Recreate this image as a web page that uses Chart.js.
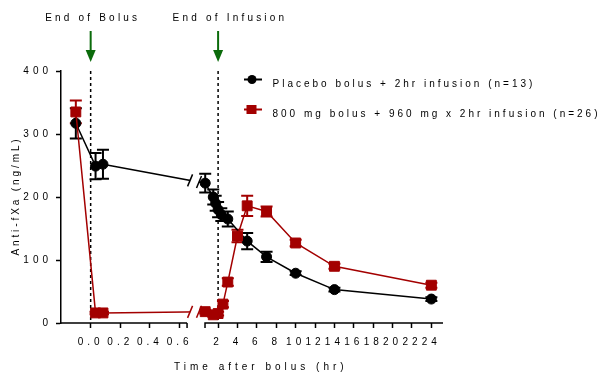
<!DOCTYPE html>
<html>
<head>
<meta charset="utf-8">
<script src="https://cdn.jsdelivr.net/npm/chart.js@4.4.1/dist/chart.umd.min.js"></script>
<style>
  html, body { margin: 0; padding: 0; background: #fff; }
</style>
</head>
<body>
<canvas id="pkChart" width="603" height="375"></canvas>
<script>
// anti-fXa (ng/mL) by hours after bolus, mean and error bar half-length
const placeboHours = [-0.1, 0.033, 0.083, 0.67, 1.5, 1.75, 2, 2.33, 3, 5, 7, 10, 14, 24];
const placeboLevel = [317, 249, 252, 222, 200, 190, 180, 172, 165, 130, 105, 79, 53, 38];
const placeboError = [24, 21, 23, 15, 12, 12, 12, 10, 12, 13, 8, 3, 3, 3];

const activeHours = [-0.1, 0.033, 0.083, 0.67, 1.5, 2, 2.5, 3, 4, 5, 7, 10, 14, 24];
const activeLevel = [335, 16, 16, 18, 13, 15, 30, 65, 138, 186, 177, 127, 90, 60];
const activeError = [18, 2, 2, 3, 3, 3, 5, 6, 10, 16, 8, 5, 4, 4];

const seriesLabels = [
  "Placebo bolus + 2hr infusion (n=13)",
  "800 mg bolus + 960 mg x 2hr infusion (n=26)"
];
const xTickValues = [0, 0.2, 0.4, 0.6, 2, 4, 6, 8, 10, 12, 14, 16, 18, 20, 22, 24];
const yTickValues = [0, 100, 200, 300, 400];
const eventHours = [0, 2];
const eventLabels = ["End of Bolus", "End of Infusion"];

// broken x axis: two hour ranges and where they sit along the axis (0..1)
const leftSegment = [-0.2, 0.65];
const rightSegment = [0.65, 25.2];
const segmentSplit = [0.33, 0.377];

const darkRed = "#a30000";
const green = "#0b6b0b";

function hourToFraction(v) {
  if (v <= leftSegment[1]) {
    return (v - leftSegment[0]) / (leftSegment[1] - leftSegment[0]) * segmentSplit[0];
  }
  return segmentSplit[1] + (v - rightSegment[0]) / (rightSegment[1] - rightSegment[0]) * (1 - segmentSplit[1]);
}
function fractionToHour(f) {
  if (f <= segmentSplit[0]) {
    return leftSegment[0] + f / segmentSplit[0] * (leftSegment[1] - leftSegment[0]);
  }
  return rightSegment[0] + (f - segmentSplit[1]) / (1 - segmentSplit[1]) * (rightSegment[1] - rightSegment[0]);
}

class BrokenLinearScale extends Chart.LinearScale {
  static id = "brokenLinear";
  buildTicks() {
    return xTickValues.map((value) => ({ value }));
  }
  getPixelForValue(value) {
    if (value === null || value === undefined || isNaN(value)) return NaN;
    return this.getPixelForDecimal(hourToFraction(value));
  }
  getValueForPixel(pixel) {
    return fractionToHour(this.getDecimalForPixel(pixel));
  }
}
Chart.register(BrokenLinearScale);

Chart.defaults.font.family = "'Liberation Sans', Arial, sans-serif";
Chart.defaults.font.size = 10;
Chart.defaults.color = "#000";

function toPoints(hours, levels) {
  return hours.map((h, i) => ({ x: h, y: levels[i] }));
}

function lineYAt(points, px) {
  for (let j = 0; j < points.length - 1; j++) {
    const a = points[j], b = points[j + 1];
    if (a.x <= px && b.x >= px) {
      return a.y + (b.y - a.y) * (px - a.x) / (b.x - a.x);
    }
  }
  return null;
}

const decor = {
  id: "decor",
  beforeDraw(chart) {
    chart.ctx.letterSpacing = "4px";
  },
  beforeDatasetsDraw(chart) {
    const { ctx, chartArea, scales: { x, y } } = chart;
    ctx.save();
    ctx.setLineDash([3, 3]);
    ctx.strokeStyle = "#000";
    ctx.lineWidth = 1.5;
    eventHours.forEach((h) => {
      const px = x.getPixelForValue(h);
      ctx.beginPath();
      ctx.moveTo(px, chartArea.top);
      ctx.lineTo(px, chartArea.bottom);
      ctx.stroke();
    });
    ctx.restore();

    // error bars
    ctx.save();
    ctx.lineWidth = 2;
    chart.data.datasets.forEach((ds) => {
      ctx.strokeStyle = ds.borderColor;
      ds.data.forEach((p, i) => {
        const e = ds.errors[i];
        if (!e) return;
        const px = x.getPixelForValue(p.x);
        const top = y.getPixelForValue(p.y + e);
        const bot = y.getPixelForValue(p.y - e);
        ctx.beginPath();
        ctx.moveTo(px, top); ctx.lineTo(px, bot);
        ctx.moveTo(px - 6, top); ctx.lineTo(px + 6, top);
        ctx.moveTo(px - 6, bot); ctx.lineTo(px + 6, bot);
        ctx.stroke();
      });
    });
    ctx.restore();
  },
  afterDatasetsDraw(chart) {
    const { ctx, chartArea, scales: { x } } = chart;
    const segEnd = x.getPixelForValue(leftSegment[1]);
    const segStart = x.getPixelForDecimal(segmentSplit[1]);
    const gapL = segEnd + 3, gapR = segStart - 6;
    ctx.save();
    ctx.fillStyle = "#fff";
    ctx.fillRect(gapL, chartArea.top, gapR - gapL, chartArea.bottom - chartArea.top - 1);
    ctx.lineWidth = 1.5;
    chart.data.datasets.forEach((ds, i) => {
      const pts = chart.getDatasetMeta(i).data;
      ctx.strokeStyle = ds.borderColor;
      [gapL, gapR].forEach((gx) => {
        const gy = lineYAt(pts, gx);
        if (gy === null) return;
        ctx.beginPath();
        ctx.moveTo(gx - 2.5, gy + 6);
        ctx.lineTo(gx + 2.5, gy - 6);
        ctx.stroke();
      });
    });
    ctx.restore();
  },
  afterDraw(chart) {
    const { ctx, chartArea, scales: { x } } = chart;
    const segEnd = x.getPixelForValue(leftSegment[1]);
    const segStart = x.getPixelForDecimal(segmentSplit[1]);
    const base = chartArea.bottom;
    ctx.save();

    // x axis, drawn in two pieces
    ctx.strokeStyle = "#000";
    ctx.lineWidth = 1.5;
    ctx.beginPath();
    ctx.moveTo(chartArea.left - 0.75, base); ctx.lineTo(segEnd, base);
    ctx.moveTo(segEnd, base); ctx.lineTo(segEnd, base + 5);
    ctx.moveTo(segStart, base + 5); ctx.lineTo(segStart, base);
    ctx.lineTo(chartArea.right, base);
    ctx.stroke();

    // arrows and event labels
    ctx.font = "10px 'Liberation Sans', Arial, sans-serif";
    ctx.letterSpacing = "3.2px";
    ctx.textAlign = "left";
    ctx.textBaseline = "alphabetic";
    eventHours.forEach((h, i) => {
      const px = x.getPixelForValue(h);
      ctx.strokeStyle = green;
      ctx.fillStyle = green;
      ctx.lineWidth = 2;
      ctx.beginPath();
      ctx.moveTo(px, 31); ctx.lineTo(px, 52);
      ctx.stroke();
      ctx.beginPath();
      ctx.moveTo(px - 5, 50); ctx.lineTo(px + 5, 50); ctx.lineTo(px, 62);
      ctx.closePath();
      ctx.fill();
      ctx.fillStyle = "#000";
      ctx.fillText(eventLabels[i], px - 45.5, 21);
    });

    // legend
    const rows = [79.5, 109.5];
    chart.data.datasets.forEach((ds, i) => {
      const cy = rows[i];
      ctx.strokeStyle = ds.borderColor;
      ctx.fillStyle = ds.borderColor;
      ctx.lineWidth = 2;
      ctx.beginPath();
      ctx.moveTo(244, cy); ctx.lineTo(262, cy);
      ctx.stroke();
      if (ds.pointStyle === "circle") {
        ctx.beginPath();
        ctx.arc(252, cy, 4.5, 0, Math.PI * 2);
        ctx.fill();
      } else {
        ctx.fillRect(246.5, cy - 4.5, 10, 9);
      }
      ctx.fillStyle = "#000";
      ctx.letterSpacing = "3px";
      ctx.fillText(ds.label, 272.5, cy + 7);
    });

    // axis titles
    ctx.fillStyle = "#000";
    ctx.letterSpacing = "4px";
    ctx.textAlign = "left";
    ctx.fillText("Time after bolus (hr)", 174, 370);
    ctx.translate(19, 196);
    ctx.rotate(-Math.PI / 2);
    ctx.letterSpacing = "2.9px";
    ctx.textAlign = "center";
    ctx.fillText("Anti-fXa (ng/mL)", 0, 0);
    ctx.restore();
  }
};

new Chart(document.getElementById("pkChart"), {
  type: "line",
  data: {
    datasets: [
      {
        label: seriesLabels[0],
        data: toPoints(placeboHours, placeboLevel),
        errors: placeboError,
        borderColor: "#000",
        backgroundColor: "#000",
        borderWidth: 1.5,
        pointStyle: "circle",
        pointRadius: 5,
        pointBorderWidth: 1,
        order: 1
      },
      {
        label: seriesLabels[1],
        data: toPoints(activeHours, activeLevel),
        errors: activeError,
        borderColor: darkRed,
        backgroundColor: darkRed,
        borderWidth: 1.5,
        pointStyle: "rect",
        pointRadius: 7,
        pointBorderWidth: 1,
        order: 0
      }
    ]
  },
  options: {
    responsive: false,
    animation: false,
    devicePixelRatio: 1,
    layout: { padding: { top: 71, right: 160, left: 0, bottom: 0 } },
    plugins: { legend: { display: false }, tooltip: { enabled: false } },
    scales: {
      x: {
        type: "brokenLinear",
        min: leftSegment[0],
        max: rightSegment[1],
        border: { display: false },
        grid: { drawOnChartArea: false, tickLength: 5, tickWidth: 1.5, tickColor: "#000" },
        ticks: {
          autoSkip: false,
          maxRotation: 0,
          padding: 8,
          callback: (v) => (v < 1 ? v.toFixed(1) : String(v))
        },
        afterFit: (s) => { s.height = 52; }
      },
      y: {
        min: 0,
        max: 400,
        afterBuildTicks: (s) => { s.ticks = yTickValues.map((value) => ({ value })); },
        border: { color: "#000", width: 1.5 },
        grid: { drawOnChartArea: false, tickLength: 5, tickWidth: 1.5, tickColor: "#000" },
        ticks: { padding: 4 },
        afterFit: (s) => { s.width = 61; }
      }
    }
  },
  plugins: [decor]
});
</script>
</body>
</html>
